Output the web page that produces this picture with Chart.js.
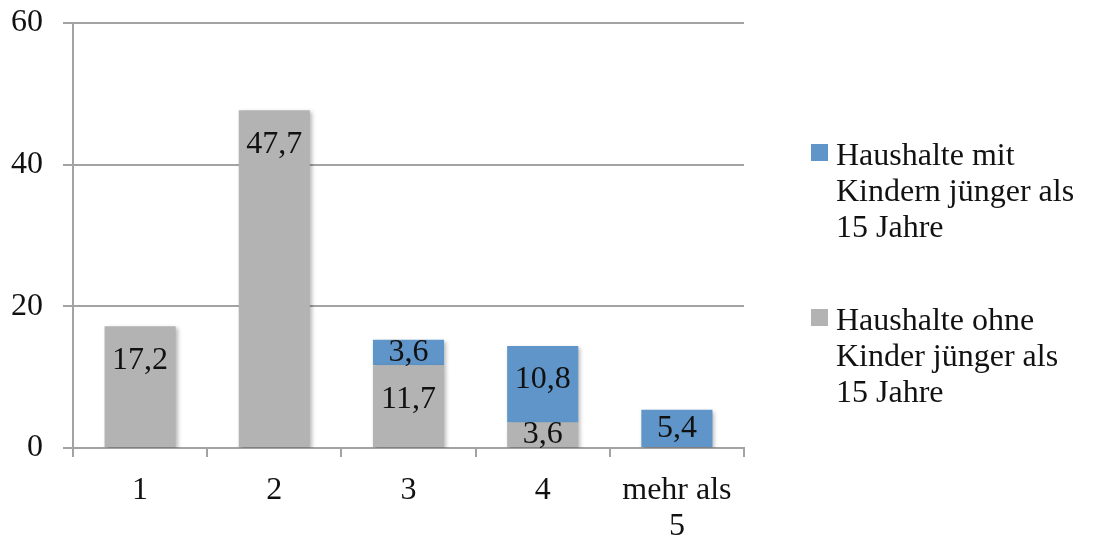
<!DOCTYPE html>
<html>
<head>
<meta charset="utf-8">
<script src="https://cdn.jsdelivr.net/npm/chart.js@4/dist/chart.umd.min.js"></script>
<style>
  html, body { margin: 0; padding: 0; background: #fff; }
  #wrap { position: relative; width: 1093px; height: 538px; }
</style>
</head>
<body>
<div id="wrap"><canvas id="c" width="1093" height="538"></canvas></div>
<script>
// Household size categories
const categories = ['1', '2', '3', '4', ['mehr als', '5']];
// Share (%) of households without children younger than 15
const ohneKinder = [17.2, 47.7, 11.7, 3.6, 0];
// Share (%) of households with children younger than 15
const mitKindern = [0, 0, 3.6, 10.8, 5.4];
// Legend texts, split into lines
const labelMit = ['Haushalte mit', 'Kindern jünger als', '15 Jahre'];
const labelOhne = ['Haushalte ohne', 'Kinder jünger als', '15 Jahre'];
const yTicks = [0, 20, 40, 60];

const FONT = '"Liberation Serif", "DejaVu Serif", serif';
const FSIZE = 32;
const BLUE = '#5f95c8';
const GRAY = '#b3b3b3';
const AXIS = '#a3a3a3';

// Soft drop shadow under the bars
const barShadow = {
  id: 'barShadow',
  beforeDatasetsDraw(chart) {
    const ctx = chart.ctx;
    ctx.save();
    ctx.shadowColor = 'rgba(0,0,0,0.28)';
    ctx.shadowBlur = 4;
    ctx.shadowOffsetX = 2;
    ctx.shadowOffsetY = 2;
  },
  afterDatasetsDraw(chart) { chart.ctx.restore(); }
};

// Value labels inside each bar segment, near its top
const valueLabels = {
  id: 'valueLabels',
  afterDraw(chart) {
    const ctx = chart.ctx;
    ctx.save();
    ctx.font = FSIZE + 'px ' + FONT;
    ctx.fillStyle = '#111';
    ctx.textAlign = 'center';
    ctx.textBaseline = 'middle';
    chart.data.datasets.forEach((ds, di) => {
      chart.getDatasetMeta(di).data.forEach((el, i) => {
        const v = ds.data[i];
        if (!v) return;
        const y = Math.min(el.y + 34, (el.y + el.base) / 2);
        ctx.fillText(v.toFixed(1).replace('.', ','), el.x, y);
      });
    });
    ctx.restore();
  }
};

// Legend on the right with wrapped labels
const sideLegend = {
  id: 'sideLegend',
  afterDraw(chart) {
    const ctx = chart.ctx;
    const x = chart.chartArea.right + 67;
    const entries = [
      { color: BLUE, lines: chart.data.datasets[1].legendLines, top: 144 },
      { color: GRAY, lines: chart.data.datasets[0].legendLines, top: 309 }
    ];
    ctx.save();
    ctx.font = FSIZE + 'px ' + FONT;
    ctx.textAlign = 'left';
    ctx.textBaseline = 'alphabetic';
    entries.forEach(e => {
      ctx.fillStyle = e.color;
      ctx.fillRect(x, e.top, 17, 17);
      ctx.fillStyle = '#111';
      e.lines.forEach((ln, k) => ctx.fillText(ln, x + 25, e.top + 21 + k * 36));
    });
    ctx.restore();
  }
};

new Chart(document.getElementById('c'), {
  type: 'bar',
  data: {
    labels: categories,
    datasets: [
      { label: labelOhne.join(' '), legendLines: labelOhne, data: ohneKinder, backgroundColor: GRAY },
      { label: labelMit.join(' '), legendLines: labelMit, data: mitKindern, backgroundColor: BLUE }
    ]
  },
  options: {
    responsive: false,
    animation: false,
    events: [],
    layout: { padding: { top: 23, right: 349, left: 0, bottom: 0 } },
    datasets: { bar: { barPercentage: 1, categoryPercentage: 0.53, borderWidth: 0 } },
    plugins: { legend: { display: false }, tooltip: { enabled: false } },
    scales: {
      x: {
        stacked: true,
        afterFit(s) { s.height = 90; },
        grid: { display: true, drawOnChartArea: false, offset: true, color: AXIS, lineWidth: 2, tickLength: 9 },
        border: { color: AXIS, width: 2 },
        ticks: { color: '#111', font: { family: FONT, size: FSIZE, lineHeight: 1.12 }, padding: 16, maxRotation: 0 }
      },
      y: {
        stacked: true,
        min: 0,
        max: 60,
        afterFit(s) { s.width = 73; s.paddingTop = 0; s.paddingBottom = 0; },
        afterBuildTicks(s) { s.ticks = yTicks.map(v => ({ value: v })); },
        grid: { color: AXIS, lineWidth: 2, tickLength: 10 },
        border: { color: AXIS, width: 2 },
        ticks: { color: '#111', font: { family: FONT, size: FSIZE }, padding: 20 }
      }
    }
  },
  plugins: [barShadow, valueLabels, sideLegend]
});
</script>
</body>
</html>
